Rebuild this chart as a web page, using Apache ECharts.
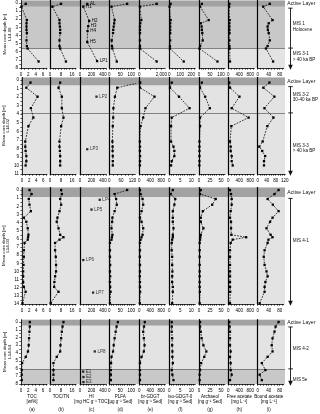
<!DOCTYPE html>
<html><head><meta charset="utf-8">
<script src="https://cdn.jsdelivr.net/npm/echarts@6.0.0/dist/echarts.min.js"></script>
<style>html,body{margin:0;padding:0;background:#fff;}#chart{width:320px;height:414px;}</style>
</head><body><div id="chart"></div>
<script>
// ---------- column titles ----------
const colTitles = ['TOC\n[wt%]', 'TOC/TN', 'HI\n[mg HC g⁻¹ TOC]', 'PLFA\n[µg g⁻¹ Sed]', 'br-GDGT\n[ng g⁻¹ Sed]',
  'iso-GDGT-0\n[ng g⁻¹ Sed]', 'Archaeol\n[ng g⁻¹ Sed]', 'Free acetate\n[mg L⁻¹]', 'Bound acetate\n[mg L⁻¹]'];
const colLetters = ['(a)', '(b)', '(c)', '(d)', '(e)', '(f)', '(g)', '(h)', '(i)'];

// ---------- row 1 ----------
const r1Depth = [0.1, 0.45, 2.1, 2.5, 2.9, 3.3, 3.7, 4.6, 5.3, 5.6, 7.2];
const r1TOC = [1.3, 0.1, 1.6, 1.5, 1.5, 1.5, 1.6, 1.5, 1.6, 1.8, 4.8];
const r1TOCTN = [8.0, 1.7, 6.9, 6.9, 7.2, 7.4, 7.4, 6.9, 6.9, 7.4, 11.6];
const r1PLFA = [81, 10, 24, 22, 20, 18, 17, 11, 12, 14, 34];
const r1brGDGT = [1580, 60, 180, 90, 60, 60, 60, 60, 60, 60, 1580];
const r1isoGDGT = [12, 2, 12, 8, 8, 8, 8, 8, 6, 6, 131];
const r1Archaeol = [13, 5, 44, 8, 12, 13, 15, 17, 5, 2, 84];
const r1FreeAc = [40, 30, 50, 40, 40, 40, 45, 40, 40, 50, 62];
const r1BoundAc = [44, 20, 54, 40, 36, 37, 40, 44, 36, 30, 56];
const r1HIDepth = [0.12, 0.45, 2.2, 2.85, 3.45, 4.8, 7.15];
const r1HI = [126, 57, 160, 143, 131, 126, 297];
const r1HILabels = ['AL', 'H1', 'H2', 'H3', 'H4', 'H5', 'LP1'];
const r1AxisMax = [6, 16, 400, 100, 2000, 200, 100, 800, 80];
const r1AxisStep = [2, 8, 200, 50, 2000, 100, 50, 400, 40];
const r1Minor = [1, 2, 50, 10, 500, 25, 10, 100, 10];

// ---------- row 2 ----------
const r2Depth = [0.3, 0.9, 1.95, 3.3, 4.4, 5.4, 7.2, 7.8, 8.3, 8.9, 9.5, 10.0];
const r2TOC = [2.4, 1.2, 4.4, 2.5, 3.2, 1.8, 0.9, 0.9, 1.0, 1.2, 1.2, 1.0];
const r2TOCTN = [7.4, 6.2, 8.6, 8.6, 9.8, 8.1, 6.9, 6.9, 7.2, 7.4, 7.4, 7.4];
const r2PLFA = [158, 41, 29, 21, 20, 18, 16, 17, 17, 18, 18, 18];
const r2brGDGT = [30, 25, 553, 224, 141, 47, 20, 25, 22, 28, 25, 22];
const r2isoGDGT = [1.1, 0.3, 4.4, 9.2, 1.1, 0.8, 0.8, 1.9, 2.3, 2.3, 1.1, 0.8];
const r2Archaeol = [6.3, 2.4, 14, 24.6, 2.4, 2.4, 1, 1, 1, 1, 1, 0.8];
const r2FreeAc = [37, 62, 406, 123, 738, 110, 62, 86, 86, 123, 123, 160];
const r2BoundAc = [52, 25, 74, 30, 70, 43, 22, 7, 20, 33, 28, 28];
const r2HIDepth = [1.95, 8.1];
const r2HI = [287, 126];
const r2HILabels = ['LP2', 'LP3'];
const r2AxisMax = [6, 16, 400, 120, 800, 10, 50, 800, 120];
const r2AxisStep = [2, 8, 200, 60, 400, 5, 25, 400, 40];
const r2Minor = [1, 2, 50, 20, 100, 1, 5, 100, 10];

// ---------- row 3 ----------
const r3Depth = [0, 0.5, 1.1, 1.8, 2.6, 3.4, 3.9, 4.7, 5.5, 5.8, 6.1, 6.5, 7.4, 8.2, 9.2, 10.0, 10.6, 11.3, 11.9, 12.5, 13.9];
const r3TOC = [2.1, 2.7, 1.9, 2.1, 2.5, 0.5, 1.2, 1.6, 1.8, 1.7, 1.6, 0.7, 0.5, 0.5, 0.4, 0.3, 0.3, 0.3, 0.5, 1.0, 0.1];
const r3TOCTN = [8.1, 8.6, 7.4, 8.1, 6.9, 5.4, 4.9, 6.2, 7.4, 9.8, 6.9, 3.7, 3.7, 4.2, 4.4, 4.4, 3.7, 3.2, 3.0, 6.2, 0.5];
const r3PLFA = [81, 24, 31, 34, 24, 14, 13, 10, 14, 12, 10, 3, 3, 3, 4, 3, 4, 3, 4, 6, 3];
const r3brGDGT = [24, 47, 118, 141, 82, 24, 82, 141, 118, 82, 47, 24, 24, 20, 24, 24, 20, 24, 24, 30, 20];
const r3isoGDGT = [1.6, 0.6, 2.7, 2.3, 1.6, 1.6, 1.6, 1.9, 1.6, 1.6, 1.3, 1.1, 1.1, 1.3, 1.3, 1.4, 1.3, 1.3, 1.6, 1.6, 1.3];
const r3Archaeol = [4, 2.4, 38, 30, 8.7, 4, 4, 10, 4, 3, 2.4, 1.5, 1.5, 1.5, 1.5, 1.5, 1.5, 1.5, 1.5, 2, 1.5];
const r3FreeAc = [62, 98, 123, 123, 86, 62, 98, 100, 110, 650, 160, 86, 62, 62, 62, 62, 62, 62, 62, 70, 62];
const r3BoundAc = [76, 61, 36, 55, 76, 54, 45, 32, 47, 54, 39, 36, 25, 22, 25, 32, 36, 28, 25, 25, 7];
const r3HIDepth = [1.2, 2.4, 8.6, 12.6];
const r3HI = [343, 200, 57, 228];
const r3HILabels = ['LP4', 'LP5', 'LP6', 'LP7'];
const r3AxisMax = [6, 16, 400, 100, 800, 10, 50, 800, 80];
const r3AxisStep = [2, 8, 200, 50, 400, 5, 25, 400, 40];
const r3Minor = [1, 2, 50, 10, 100, 1, 5, 100, 10];

// ---------- row 4 ----------
const r4Depth = [0, 0.6, 1.25, 2.1, 3.0, 3.8, 4.5, 5.3, 6.2, 6.8, 7.5];
const r4TOC = [2.4, 2.4, 2.3, 2.2, 2.1, 1.9, 1.3, 0.3, 0.2, 0.2, 0.2];
const r4TOCTN = [9.8, 9.1, 8.6, 8.1, 7.6, 7.4, 4.9, 2.5, 2.5, 2.5, 2.5];
const r4PLFA = [39, 33, 29, 24, 20, 17, 10, 8, 7, 7, 7];
const r4brGDGT = [200, 170, 141, 165, 190, 165, 82, 24, 24, 24, 24];
const r4isoGDGT = [1.1, 1.1, 1.1, 1.3, 1.3, 1.4, 1.4, 1.6, 1.1, 1.4, 1.9];
const r4Archaeol = [2.4, 2.4, 4, 6, 10, 16.7, 12, 5, 2.4, 1.5, 1.5];
const r4FreeAc = [37, 49, 62, 62, 62, 86, 62, 86, 86, 123, 62];
const r4BoundAc = [76, 65, 61, 54, 51, 54, 36, 15, 28, 7, 15];
const r4HIDepth = [3.8, 6.4, 7.1, 7.75];
const r4HI = [257, 55, 60, 60];
const r4HILabels = ['LP8', 'E1', 'E2', 'E3'];
const r4AxisMax = r3AxisMax;
const r4AxisStep = r3AxisStep;
const r4Minor = r3Minor;

// ---------- zones ----------
const rowCores = ['L14-09', 'L14-02', 'L14-03', 'L14-04'];
const rowDepthMax = [8, 11, 14, 8];
const rowActiveLayer = [0.45, 0.6, 0.85, 0.45];
const rowDarkZone = [[0.45, 5.55], null, null, [6.05, 8]];
const rowBoundaries = [[5.55], [3.85], [], [6.05]];
const rowZoneLabels = [
  [['MIS 1\nHolocene', 2.9], ['MIS 3-1\n> 40 ka BP', 6.6]],
  [['MIS 3-2\n30-40 ka BP', 2.0], ['MIS 3-3\n> 40 ka BP', 8.0]],
  [['MIS 4-1', 6.2]],
  [['MIS 4-2', 3.4], ['MIS 5e', 7.4]]
];

const rows = [
  {depth: r1Depth, vals: [r1TOC, r1TOCTN, null, r1PLFA, r1brGDGT, r1isoGDGT, r1Archaeol, r1FreeAc, r1BoundAc],
   hiDepth: r1HIDepth, hi: r1HI, hiLab: r1HILabels, hiLine: true, axisMax: r1AxisMax, axisStep: r1AxisStep, minor: r1Minor},
  {depth: r2Depth, vals: [r2TOC, r2TOCTN, null, r2PLFA, r2brGDGT, r2isoGDGT, r2Archaeol, r2FreeAc, r2BoundAc],
   hiDepth: r2HIDepth, hi: r2HI, hiLab: r2HILabels, hiLine: false, axisMax: r2AxisMax, axisStep: r2AxisStep, minor: r2Minor},
  {depth: r3Depth, vals: [r3TOC, r3TOCTN, null, r3PLFA, r3brGDGT, r3isoGDGT, r3Archaeol, r3FreeAc, r3BoundAc],
   hiDepth: r3HIDepth, hi: r3HI, hiLab: r3HILabels, hiLine: false, axisMax: r3AxisMax, axisStep: r3AxisStep, minor: r3Minor},
  {depth: r4Depth, vals: [r4TOC, r4TOCTN, null, r4PLFA, r4brGDGT, r4isoGDGT, r4Archaeol, r4FreeAc, r4BoundAc],
   hiDepth: r4HIDepth, hi: r4HI, hiLab: r4HILabels, hiLine: false, axisMax: r4AxisMax, axisStep: r4AxisStep, minor: r4Minor}
];

// ---------- layout (pixels) ----------
const FONT = 'Liberation Sans, Arial, sans-serif';
const yMin = -0.3;
const colX = [21, 50, 80, 109.3, 139.3, 169.3, 199, 228.3, 257.7];
const rowZeroY = [3, 80, 190, 322];
const rowMaxY = [68, 174, 304, 384];
function span(r, c) { if (c === 2) return 23; if (r === 1 && c === 3) return 23.3; if (r === 1 && c === 8) return 27; return 22; }
function axisW(r, c) { return (r === 1 && c === 8) ? 27.5 : 26; }
function range(step, max) { const o = []; for (let k = 0; k * step <= max + 1e-9; k++) o.push(+(k * step).toFixed(6)); return o; }

const option = {animation: false, textStyle: {fontFamily: FONT}, grid: [], xAxis: [], yAxis: [], series: [], graphic: []};
const G = option.graphic;

rows.forEach((R, r) => {
  const dMax = rowDepthMax[r];
  const ppm = (rowMaxY[r] - rowZeroY[r]) / dMax;
  const top = rowZeroY[r] + yMin * ppm;
  const height = rowMaxY[r] - top;
  const yOf = d => rowZeroY[r] + d * ppm;
  const al = rowActiveLayer[r];

  // background panel
  let gi = option.grid.length;
  option.grid.push({left: 21, top, width: 264, height, show: true, backgroundColor: '#e3e3e3', borderWidth: 0, z: 0});
  option.xAxis.push({gridIndex: gi, type: 'value', min: 0, max: 1, show: false});
  option.yAxis.push({gridIndex: gi, type: 'value', inverse: true, min: yMin, max: dMax, show: false});
  const areas = [[{yAxis: yMin, itemStyle: {color: '#a2a2a2', opacity: 1}}, {yAxis: al}]];
  if (rowDarkZone[r]) areas.push([{yAxis: rowDarkZone[r][0], itemStyle: {color: '#c8c8c8', opacity: 1}}, {yAxis: rowDarkZone[r][1]}]);
  option.series.push({type: 'line', xAxisIndex: gi, yAxisIndex: gi, data: [[0.5, 0]], showSymbol: false, symbol: 'none',
    lineStyle: {width: 0}, silent: true, z: 1,
    markArea: {silent: true, data: areas},
    markLine: {silent: true, symbol: ['none', 'none'], label: {show: false},
      lineStyle: {color: '#6a6a6a', width: 0.8, type: 'solid'}, data: rowBoundaries[r].map(b => ({yAxis: b}))}});

  for (let c = 0; c < 9; c++) {
    gi = option.grid.length;
    const sp = span(r, c), W = axisW(r, c);
    option.grid.push({left: colX[c], top, width: W, height, show: false});
    const amax = R.axisMax[c], step = R.axisStep[c], minor = R.minor[c];
    const xmax = amax * W / sp;
    option.xAxis.push({gridIndex: gi, type: 'value', min: 0, max: xmax, z: 10,
      axisLine: {show: true, onZero: false, lineStyle: {color: '#000', width: 0.8}},
      axisTick: {show: true, customValues: range(minor, xmax), length: 1.8, lineStyle: {color: '#000', width: 0.6}},
      axisLabel: {show: true, customValues: range(step, amax), fontSize: 4.5, margin: 4.5, color: '#000'},
      splitLine: {show: false},
      name: r === 3 ? colTitles[c] : '', nameLocation: 'middle', nameGap: 10.5,
      nameTextStyle: {fontSize: 4.5, lineHeight: 4.5, color: '#000', padding: [0, W - sp, 0, 0]}});
    option.yAxis.push({gridIndex: gi, type: 'value', inverse: true, min: yMin, max: dMax, z: 10,
      axisLine: {show: true, onZero: false, lineStyle: {color: '#000', width: c === 0 ? 0.8 : 1.2}},
      axisTick: {show: c === 0, customValues: range(0.5, dMax), length: 1.8, lineStyle: {color: '#000', width: 0.6}},
      axisLabel: {show: c === 0, customValues: range(1, dMax), fontSize: 4.5, margin: 3, color: '#000'},
      splitLine: {show: false},
      name: c === 0 ? 'Mean core depth [m]\n' + rowCores[r] : '', nameLocation: 'middle', nameGap: 8,
      nameTextStyle: {fontSize: 4.4, lineHeight: 4.6, color: '#000'}});

    const common = {xAxisIndex: gi, yAxisIndex: gi, symbol: 'rect', symbolSize: 2.3, z: 12, clip: false, silent: true,
      itemStyle: {color: '#000'}};
    if (c === 2) {
      const data = R.hiDepth.map((d, i) => ({name: R.hiLab[i], value: [R.hi[i], d]}));
      option.series.push(Object.assign({}, common, {
        type: R.hiLine ? 'line' : 'scatter', data, showAllSymbol: true,
        lineStyle: {color: '#000', width: 0.75, type: [1.8, 1.2]},
        label: {show: true, formatter: '{b}', position: 'right', distance: 1.5, fontSize: 4.5, color: '#000'}}));
    } else {
      const data = R.depth.map((d, i) => [R.vals[c][i], d]);
      option.series.push(Object.assign({}, common, {
        type: 'line', data, showAllSymbol: true,
        lineStyle: {color: '#000', width: 0.75, type: [1.8, 1.2]}}));
    }
  }

  // right-side annotation
  G.push({type: 'text', x: 287.3, y: yOf((yMin + al) / 2),
    style: {text: 'Active Layer', fontSize: 5.1, fontFamily: FONT, fill: '#111', align: 'left', verticalAlign: 'middle'}});
  const yTop = yOf(al) + 1.5, yBot = yOf(dMax);
  G.push({type: 'line', shape: {x1: 290.5, y1: yTop, x2: 290.5, y2: yBot - 2}, style: {stroke: '#111', lineWidth: 0.9}});
  G.push({type: 'line', shape: {x1: 288.3, y1: yTop, x2: 292.7, y2: yTop}, style: {stroke: '#111', lineWidth: 0.9}});
  rowBoundaries[r].forEach(b => {
    G.push({type: 'line', shape: {x1: 288.3, y1: yOf(b), x2: 293, y2: yOf(b)}, style: {stroke: '#111', lineWidth: 0.9}});
  });
  G.push({type: 'polygon', shape: {points: [[288.2, yBot - 3.2], [292.8, yBot - 3.2], [290.5, yBot + 1.8]]}, style: {fill: '#111'}});
  rowZoneLabels[r].forEach(([t, d]) => {
    G.push({type: 'text', x: 292.8, y: yOf(d),
      style: {text: t, fontSize: 4.6, lineHeight: 5.4, fontFamily: FONT, fill: '#111', align: 'left', verticalAlign: 'middle'}});
  });
});

// column letters
for (let c = 0; c < 9; c++) {
  G.push({type: 'text', x: colX[c] + span(3, c) / 2, y: 409.3,
    style: {text: colLetters[c], fontSize: 4.6, fontFamily: FONT, fill: '#111', align: 'center', verticalAlign: 'middle'}});
}

const chart = echarts.init(document.getElementById('chart'), null, {renderer: 'canvas'});
chart.setOption(option);
</script></body></html>
